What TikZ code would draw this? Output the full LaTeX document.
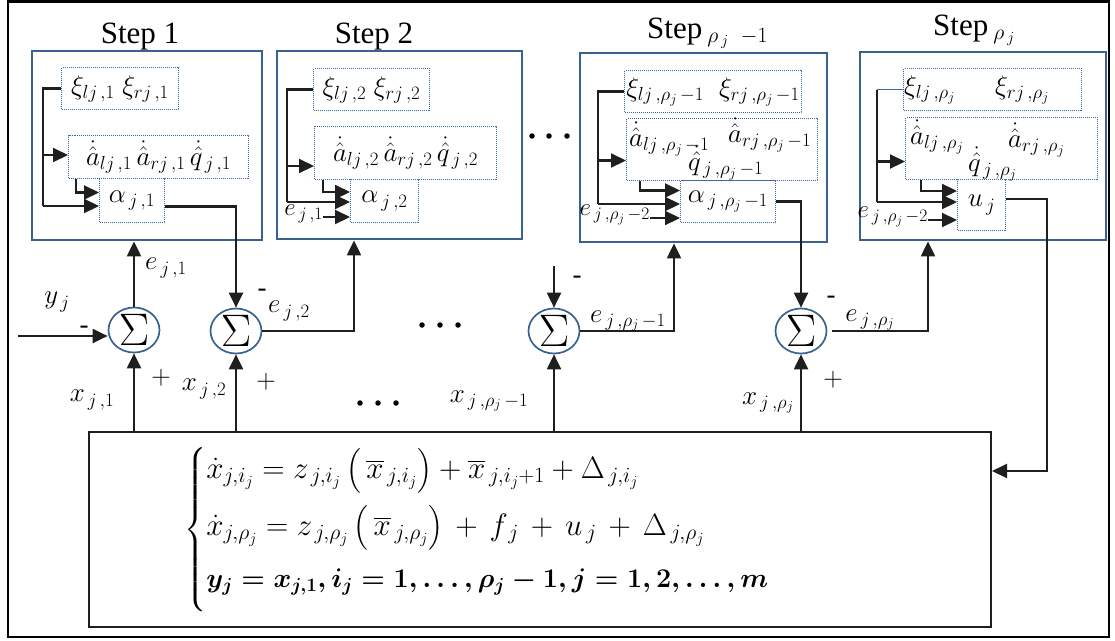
\RequirePackage{fix-cm}
\documentclass[tikz,border=0pt]{standalone}
\usepackage{amsmath}
\usepackage{fontspec}
\setmainfont{Liberation Serif}
\usetikzlibrary{arrows.meta,shapes.geometric,calc}

\definecolor{stepblue}{RGB}{56,99,143}
\definecolor{dotblue}{RGB}{60,105,170}

\tikzset{
  stepbox/.style={draw=stepblue, line width=2.4pt, anchor=north west, inner sep=0pt},
  dbox/.style={draw=dotblue, densely dotted, line width=1pt, anchor=north west, inner sep=0pt},
  sumnode/.style={ellipse, draw=stepblue, line width=1.7pt, minimum width=51pt,
    minimum height=45pt, inner sep=0pt, font=\fontsize{38}{38}\selectfont},
  ln/.style={line width=2.1pt, black!88},
  arr/.style={ln, -{Triangle[length=15pt,width=14pt]}},
  lbl/.style={inner sep=0pt, font=\fontsize{27}{31}\selectfont},
  sml/.style={inner sep=0pt, font=\fontsize{25}{29}\selectfont},
  title/.style={inner sep=0pt, font=\fontsize{31}{35}\selectfont},
  dot/.style={circle, fill=black, inner sep=0pt, minimum size=5.5pt},
}

\begin{document}
\begin{tikzpicture}[x=1pt, y=-1pt]
\useasboundingbox (0,0) rectangle (1115,640);
% outer frame
\draw[line width=2.5pt] (8,1.5) rectangle (1109,637);

% ---------- step blocks ----------
\node[stepbox, minimum width=230pt, minimum height=189pt] (box1) at (31,50) {};
\node[stepbox, minimum width=245pt, minimum height=188pt] (box2) at (276,50) {};
\node[stepbox, minimum width=247pt, minimum height=189pt] (box3) at (579,52) {};
\node[stepbox, minimum width=246pt, minimum height=188pt] (box4) at (859,51) {};

\node[title, anchor=base] (t1) at (140,43) {Step 1};
\node[title, anchor=base] (t2) at (374,43) {Step 2};
\node[title, anchor=base west] (t3) at (647,38) {Step\,$_{\rho_{\,j}\;\;-1}$};
\node[title, anchor=base west] (t4) at (933,35) {Step\,$_{\rho_{\,j}}$};

% step 1 contents
\node[dbox, minimum width=117pt, minimum height=42pt, lbl] (s1xi) at (61,67)
  {$\xi_{lj\,,1}\;\xi_{rj\,,1}$};
\node[dbox, minimum width=180pt, minimum height=43pt, lbl] (s1ah) at (68,135)
  {$\dot{\hat{a}}_{lj\,,1}\,\dot{\hat{a}}_{rj\,,1}\,\dot{\hat{q}}_{\,j\,,1}$};
\node[dbox, minimum width=65pt, minimum height=44pt, lbl] (s1al) at (99,178)
  {$\alpha_{\,j\,,1}$};

% step 2 contents
\node[dbox, minimum width=116pt, minimum height=42pt, lbl] (s2xi) at (313,68)
  {$\xi_{lj\,,2}\;\xi_{rj\,,2}$};
\node[dbox, minimum width=182pt, minimum height=53pt, lbl] (s2ah) at (314,126)
  {$\dot{\hat{a}}_{lj\,,2}\,\dot{\hat{a}}_{rj\,,2}\,\dot{\hat{q}}_{\,j\,,2}$};
\node[dbox, minimum width=68pt, minimum height=43pt, lbl] (s2al) at (350,179)
  {$\alpha_{\,j\,,2}$};

% step rho_j - 1 contents
\node[dbox, minimum width=177pt, minimum height=42pt, lbl] (s3xi) at (624,70)
  {$\xi_{lj\,,\rho_j\,-1}\;\;\xi_{rj\,,\rho_j\,-1}$};
\node[dbox, minimum width=191pt, minimum height=62pt] (s3ah) at (626,118) {};
\node[lbl, anchor=west] (s3a1) at (629,139) {$\dot{\hat{a}}_{lj\,,\rho_j\,-1}$};
\node[lbl, anchor=west] (s3a2) at (728,135) {$\dot{\hat{a}}_{rj\,,\rho_j\,-1}$};
\node[lbl, anchor=west] (s3a3) at (688,163) {$\dot{\hat{q}}_{\,j\,,\rho_j\,-1}$};
\node[dbox, minimum width=95pt, minimum height=42pt, lbl] (s3al) at (680,180)
  {$\alpha_{\,j\,,\rho_j\,-1}$};

% step rho_j contents
\node[dbox, minimum width=178pt, minimum height=42pt] (s4xi) at (903,68) {};
\node[lbl, anchor=west] (s4x1) at (904,90) {$\xi_{lj\,,\rho_j}$};
\node[lbl, anchor=west] (s4x2) at (995,90) {$\xi_{rj\,,\rho_j}$};
\node[dbox, minimum width=192pt, minimum height=62pt] (s4ah) at (905,117) {};
\node[lbl, anchor=west] (s4a1) at (910,137) {$\dot{\hat{a}}_{lj\,,\rho_j}$};
\node[lbl, anchor=west] (s4a2) at (1008,140) {$\dot{\hat{a}}_{rj\,,\rho_j}$};
\node[lbl, anchor=west] (s4a3) at (968,164) {$\dot{\hat{q}}_{\,j\,,\rho_j}$};
\node[dbox, minimum width=48pt, minimum height=51pt, lbl] (s4u) at (957,179)
  {$u_{\,j}$};

% internal wiring, step 1
\coordinate (k1) at (43,206);
\draw[ln] (s1xi.west) -| (k1);
\draw[arr] ([yshift=2pt]s1ah.west -| k1) -- ([yshift=2pt]s1ah.west);
\draw[arr] (k1) -- (k1 -| s1al.west);
\draw[arr] ([xshift=8pt]s1ah.south west) |- ([yshift=8pt]s1al.west);

% internal wiring, step 2
\coordinate (k2) at (287,202);
\draw[ln] (s2xi.west) -| (k2);
\draw[arr] ([yshift=-13pt]s2ah.west -| k2) -- ([yshift=-13pt]s2ah.west);
\draw[arr] (k2) -- (k2 -| s2al.west);
\draw[arr] ([xshift=9pt]s2ah.south west) |- ([yshift=9pt]s2al.west);
\coordinate (e2in) at (323,217);
\node[sml, anchor=east] (e2lab) at ([yshift=3pt]e2in) {$e_{\,j\,,1}$};
\draw[arr] (e2in) -- (e2in -| s2al.west);

% internal wiring, step rho_j - 1
\coordinate (k3) at (598,204);
\draw[ln] (s3xi.west) -| (k3);
\draw[arr] ([yshift=-11pt]s3ah.west -| k3) -- ([yshift=-11pt]s3ah.west);
\draw[arr] (k3) -- (k3 -| s3al.west);
\draw[arr] ([xshift=14pt]s3ah.south west) |- ([yshift=11pt]s3al.west);
\coordinate (e3in) at (650,218);
\node[sml, anchor=east] (e3lab) at ([yshift=3pt]e3in) {$e_{\,j\,,\rho_j\,-2}$};
\draw[arr] (e3in) -- (e3in -| s3al.west);

% internal wiring, step rho_j
\coordinate (k4) at (877,202);
\draw[draw=dotblue, line width=1pt] (s4xi.west) -- (s4xi.west -| k4);
\draw[ln] (s4xi.west -| k4) -- (k4);
\draw[arr] ([yshift=-13pt]s4ah.west -| k4) -- ([yshift=-13pt]s4ah.west);
\draw[arr] (k4) -- (k4 -| s4u.west);
\draw[arr] ([xshift=16pt]s4ah.south west) |- ([yshift=14pt]s4u.west);
\coordinate (e4in) at (928,220);
\node[sml, anchor=east] (e4lab) at ([yshift=3pt]e4in) {$e_{\,j\,,\rho_j\,-2}$};
\draw[arr] (e4in) -- (e4in -| s4u.west);

% ---------- plant ----------
\node[draw, line width=2pt, black!88, anchor=north west, minimum width=902pt,
  minimum height=195pt, inner sep=0pt] (bot) at (88,431) {};
\node[anchor=west, inner sep=0pt, font=\fontsize{31}{36}\selectfont] (eqs) at (184,530)
 {$\left\{\begin{array}{@{}l@{}}
  \dot{x}_{j,i_j} = z_{\,j,i_j}\left(\,\overline{x}_{\,j,i_j}\right) + \overline{x}_{\,j,i_j+1} + \Delta_{\,j,i_j}\\[16pt]
  \dot{x}_{j,\rho_j} = z_{\,j,\rho_j}\left(\,\overline{x}_{\,j,\rho_j}\right)\,+\, f_{\,j}\,+\, u_{\,j}\,+\, \Delta_{\,j,\rho_j}\\[16pt]
  \text{\fontsize{27}{31}\selectfont$\boldsymbol{y_{j} = x_{j,1}, i_{j} = 1,\ldots,\rho_{j} - 1, j = 1,2,\ldots,m}$}\\[14pt]
 \end{array}\right.$};

% ---------- summing junctions ----------
\node[sumnode] (sum1) at (134,330) {\scalebox{1.2}{$\Sigma$}};
\node[sumnode] (sum2) at (236,331) {\scalebox{1.2}{$\Sigma$}};
\node[sumnode] (sum3) at (554,331) {\scalebox{1.2}{$\Sigma$}};
\node[sumnode] (sum4) at (801,331) {\scalebox{1.2}{$\Sigma$}};

\coordinate (yin) at (18,336);
\coordinate (in3) at (554,266);
\coordinate (b2x) at (354,0);
\coordinate (b3x) at (674,0);
\coordinate (b4x) at (928,0);
\coordinate (uc) at (1047,471);

\draw[arr] (yin) -- (yin -| sum1.west);
\draw[arr] (sum1.north) -- (sum1.north |- box1.south);
\draw[arr] ([yshift=-6pt]s1al.east) -| (sum2.north);
\draw[arr] (sum2.east) -| (box2.south -| b2x);
\draw[arr] (in3) -- (sum3.north);
\draw[arr] (sum3.east) -| (box3.south -| b3x);
\draw[arr] (s3al.east) -| (sum4.north);
\draw[arr] ([xshift=5pt]sum4.east) -| (box4.south -| b4x);
\draw[arr] ([yshift=6pt]s4u.east) -| (uc) -- (uc -| bot.east);

\foreach \s in {sum1,sum2,sum3,sum4}
  \draw[arr] (\s.south |- bot.north) -- (\s.south);

% ---------- signal labels ----------
\node[lbl] (ly) at (57,302) {$y_{\,j}$};
\node[lbl] (m1) at (84,330) {-};
\node[lbl] (le1) at (166,268) {$e_{\,j\,,1}$};
\node[lbl] (lx1) at (92,400) {$x_{\,j\,,1}$};
\node[lbl] (p1) at (161,378) {$+$};
\node[lbl] (lx2) at (204,389) {$x_{\,j\,,2}$};
\node[lbl] (p2) at (266,382) {$+$};
\node[lbl] (m2) at (262,293) {-};
\node[lbl] (le2) at (289,311) {$e_{\,j\,,2}$};
\node[lbl] (m3) at (577,280) {-};
\node[lbl] (le3) at (628,321) {$e_{\,j\,,\rho_j\,-1}$};
\node[lbl] (lx3) at (489,401) {$x_{\,j\,,\rho_j\,-1}$};
\node[lbl] (m4) at (831,300) {-};
\node[lbl] (le4) at (870,320) {$e_{\,j\,,\rho_j}$};
\node[lbl] (p4) at (833,380) {$+$};
\node[lbl] (lx4) at (768,403) {$x_{\,j\,,\rho_j}$};

% ---------- ellipses ----------
\foreach \x in {532,549,567} \node[dot] at (\x,136) {};
\foreach \x in {422,440,458} \node[dot] at (\x,325) {};
\foreach \x in {360,378,396} \node[dot] at (\x,403) {};
\end{tikzpicture}
\end{document}
